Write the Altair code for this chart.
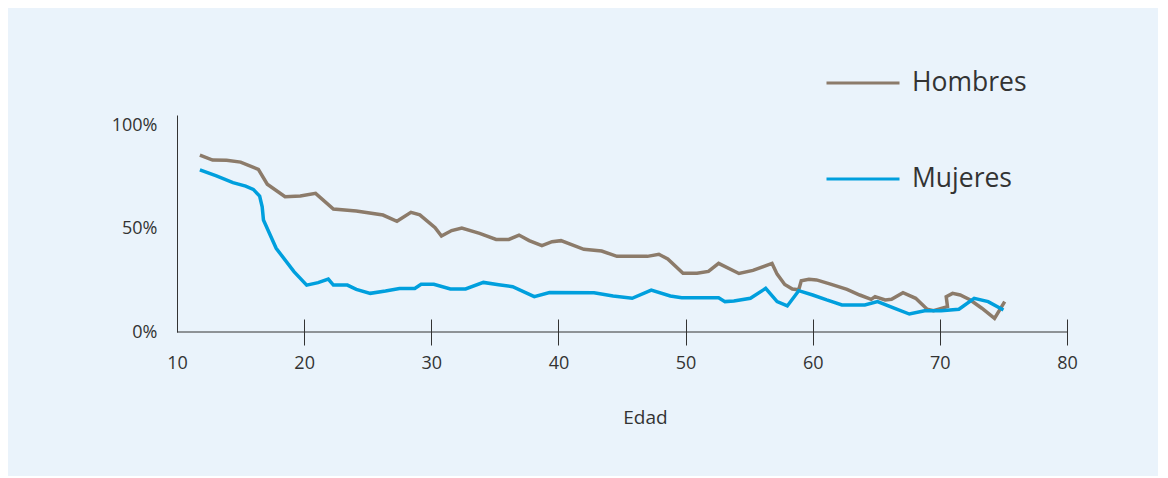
import altair as alt
import pandas as pd

series = ["Hombres", "Mujeres"]
colors = ["#8C7B6A", "#009FDD"]

hombres_edad = [11.8, 12.8, 13.9, 15.0, 16.4, 17.1, 18.5, 19.7, 20.9, 22.3, 24.1, 26.2,
                27.3, 28.4, 29.1, 30.3, 30.8, 31.6, 32.4, 33.8, 35.1, 36.1, 36.9, 37.7,
                38.7, 39.5, 40.2, 42.0, 43.4, 44.6, 47.0, 47.9, 48.6, 49.8, 50.9, 51.8,
                52.6, 54.2, 55.3, 56.8, 57.2, 57.8, 58.4, 58.9, 59.1, 59.7, 60.3, 61.4,
                62.7, 63.7, 64.6, 64.9, 65.7, 66.2, 67.1, 68.1, 69.0, 69.5, 70.6, 70.5,
                71.0, 71.6, 72.4, 73.3, 74.3, 75.1]
hombres_pct = [85.6, 83.2, 83.1, 82.2, 78.7, 71.5, 65.5, 65.8, 67.1, 59.5, 58.5, 56.6,
               53.6, 57.9, 56.7, 50.5, 46.4, 49.1, 50.3, 47.7, 44.8, 44.8, 46.9, 44.2,
               41.8, 43.7, 44.2, 40.0, 39.2, 36.6, 36.6, 37.6, 35.3, 28.4, 28.4, 29.3,
               33.2, 28.3, 29.8, 33.2, 28.0, 23.0, 20.8, 20.4, 24.8, 25.5, 25.2, 23.2,
               20.6, 17.9, 15.8, 17.1, 15.5, 15.8, 19.0, 16.3, 11.0, 10.3, 12.3, 17.1,
               18.7, 17.9, 15.5, 11.5, 6.6, 14.7]

mujeres_edad = [11.8, 13.1, 14.4, 15.4, 16.0, 16.5, 16.7, 16.8, 17.8, 19.2, 20.2, 21.1,
                21.9, 22.3, 23.4, 24.1, 25.2, 26.4, 27.5, 28.7, 29.2, 30.2, 31.5, 32.7,
                34.1, 35.3, 36.4, 38.1, 39.3, 42.8, 44.3, 45.8, 47.3, 48.8, 49.7, 52.6,
                53.1, 53.8, 55.1, 56.3, 57.2, 58.0, 58.9, 60.0, 61.1, 62.3, 64.1, 65.1,
                66.4, 67.6, 68.8, 70.1, 71.5, 72.7, 73.8, 75.0]
mujeres_pct = [78.4, 75.5, 72.3, 70.6, 69.0, 65.8, 60.6, 54.2, 40.5, 29.2, 22.7, 23.9,
               25.6, 22.7, 22.7, 20.6, 18.7, 19.8, 21.0, 21.1, 23.1, 23.1, 20.8, 20.8,
               24.0, 22.9, 21.9, 17.1, 19.1, 19.0, 17.4, 16.3, 20.3, 17.4, 16.6, 16.6,
               14.7, 15.0, 16.3, 21.1, 14.7, 12.6, 20.0, 17.9, 15.5, 13.1, 13.1, 14.7,
               11.5, 8.7, 10.3, 10.3, 11.0, 16.3, 14.7, 10.6]

x_ticks = [10, 20, 30, 40, 50, 60, 70, 80]
y_ticks = [0, 50, 100]

rows = []
for i, (e, p) in enumerate(zip(hombres_edad, hombres_pct)):
    rows.append({"edad": e, "pct": p, "sexo": "Hombres", "idx": i})
for i, (e, p) in enumerate(zip(mujeres_edad, mujeres_pct)):
    rows.append({"edad": e, "pct": p, "sexo": "Mujeres", "idx": i})
df = pd.DataFrame(rows)

FONT = "Open Sans"
TXT = "#333333"

lines = alt.Chart(df).mark_line(strokeWidth=3.5).encode(
    x=alt.X("edad:Q",
            scale=alt.Scale(domain=[10, 80], nice=False, zero=False),
            axis=alt.Axis(values=x_ticks, title="Edad", offset=-13, tickSize=26,
                          domain=False, grid=False, labelFlush=False,
                          tickColor={"condition": {"test": "datum.value === 10", "value": "transparent"},
                                     "value": TXT},
                          tickWidth=1, labelFontSize=18, labelFont=FONT, labelColor=TXT,
                          labelPadding=9, titleFont=FONT, titleFontSize=19,
                          titleFontWeight="normal", titleColor=TXT, titlePadding=36,
                          titleX=468)),
    y=alt.Y("pct:Q",
            scale=alt.Scale(domain=[0, 105], nice=False),
            axis=alt.Axis(values=y_ticks, labelExpr="datum.value + '%'", ticks=False,
                          grid=False, domain=True, domainColor=TXT, domainWidth=1,
                          title=None, labelFontSize=18, labelFont=FONT, labelColor=TXT,
                          labelPadding=20)),
    color=alt.Color("sexo:N",
                    scale=alt.Scale(domain=series, range=colors),
                    legend=alt.Legend(title=None, orient="none", legendX=648, legendY=-70,
                                      symbolType="stroke", symbolSize=5329,
                                      symbolStrokeWidth=3, labelFontSize=26.5,
                                      labelFont=FONT, labelColor=TXT, labelOffset=11,
                                      rowPadding=44, padding=0)),
    order="idx:Q",
)

baseline = alt.Chart(pd.DataFrame({"y": [0]})).mark_rule(color=TXT, strokeWidth=1).encode(
    y="y:Q"
)

chart = alt.layer(baseline, lines).properties(
    width=890,
    height=217,
    padding={"left": 169, "top": 107, "right": 91, "bottom": 144},
    autosize="none",
    background="#EAF3FB",
).configure_view(stroke=None)

chart.save("out.html", embed_options={"renderer": "svg", "actions": False})
